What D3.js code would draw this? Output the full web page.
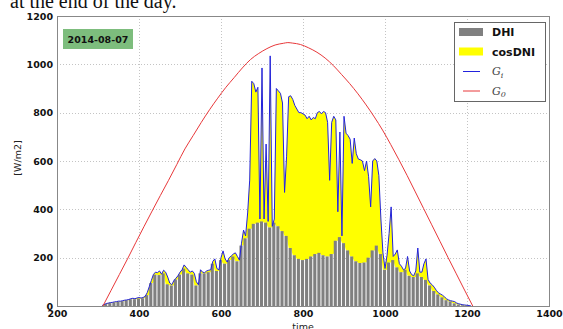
<!DOCTYPE html>
<html>
<head>
<meta charset="utf-8">
<script src="https://cdn.jsdelivr.net/npm/d3@7"></script>
<style>
  body { margin: 0; background: #fff; }
  svg { display: block; }
  .tick text { font-family: "DejaVu Sans", sans-serif; font-weight: bold; font-size: 9.5px; fill: #111; }
</style>
</head>
<body>
<svg id="chart" width="563" height="329"></svg>
<script>
// irradiance for one day, time in minutes
const xTicks = [200, 400, 600, 800, 1000, 1200, 1400];
const yTicks = [0, 200, 400, 600, 800, 1000, 1200];

// DHI, one bar every 10 min from 310 to 1210
const dhiTimes = d3.range(310, 1211, 10);
const dhi = [
    0, 8, 12, 15, 18, 20, 24, 28, 28, 30,
    32, 45, 95, 130, 128, 135, 90, 85, 110, 130,
    155, 135, 130, 85, 135, 135, 140, 175, 145, 190,
    175, 190, 205, 185, 250, 280, 320, 340, 345, 350,
    345, 325, 345, 330, 310, 290, 240, 210, 195, 190,
    195, 205, 215, 220, 210, 205, 215, 270, 285, 260,
    230, 205, 185, 178, 180, 200, 230, 250, 215, 150,
    180, 190, 160, 140, 150, 125, 120, 135, 120, 108,
    85, 62, 48, 36, 24, 19, 11, 6, 3, 1, 0
];

// G_i (= DHI + cosDNI), every 5 min from 310 to 1210
const giTimes = d3.range(310, 1211, 5);
const gi = [
    2, 6, 10, 12, 14, 15, 17, 18, 20, 20,
    22, 24, 25, 27, 30, 32, 30, 33, 35, 33,
    35, 40, 55, 80, 105, 130, 140, 138, 145, 132,
    148, 140, 120, 95, 88, 105, 115, 125, 140, 150,
    170, 160, 150, 140, 145, 135, 100, 88, 150, 140,
    138, 145, 148, 150, 185, 195, 155, 150, 200, 228,
    195, 182, 200, 207, 215, 220, 205, 190, 260, 314,
    290, 385, 521, 930, 920, 885, 905, 360, 985, 360,
    670, 350, 1035, 330, 360, 900, 890, 880, 840, 470,
    620, 866, 870, 855, 830, 815, 800, 800, 795, 790,
    775, 785, 770, 780, 775, 800, 805, 795, 805, 800,
    760, 520, 760, 785, 770, 390, 720, 290, 785, 715,
    705, 690, 590, 695, 630, 608, 605, 600, 560, 600,
    535, 410, 600, 610, 600, 540, 360, 220, 155, 210,
    300, 410, 205, 215, 232, 175, 165, 150, 155, 205,
    145, 130, 125, 145, 240, 140, 140, 175, 195, 110,
    95, 88, 78, 65, 55, 50, 45, 38, 30, 25,
    22, 20, 18, 12, 9, 7, 5, 4, 3, 2,
    0
];

// G_0, extraterrestrial irradiance
const g0Times = [312, 332, 352, 372, 392, 412, 432, 452, 472, 492, 512, 532, 552, 572, 592, 612, 632, 652, 672, 692, 712, 732, 752, 763,
    774, 794, 814, 834, 854, 874, 894, 914, 934, 954, 974, 994, 1014, 1034, 1054, 1074, 1094, 1114, 1134, 1154, 1174, 1194, 1214];
const g0 = [0, 65, 130, 195, 262, 328, 393, 457, 520, 585, 650, 705, 760, 812, 860, 905, 945, 985, 1020, 1045, 1065, 1080, 1087, 1090,
    1088, 1082, 1068, 1050, 1026, 995, 958, 920, 878, 832, 782, 728, 668, 605, 540, 472, 404, 336, 268, 200, 133, 66, 0];

const svg = d3.select('#chart');
const x = d3.scaleLinear().domain([200, 1400]).range([57, 549]);
const y = d3.scaleLinear().domain([0, 1200]).range([306, 16]);

// text above the figure (cut off in the page)
svg.append('text')
    .attr('x', 10).attr('y', 8)
    .attr('font-family', '"Liberation Serif", serif')
    .attr('font-size', 20)
    .attr('fill', '#111')
    .text('at the end of the day.');

// grid
const grid = svg.append('g');
grid.selectAll('.gx').data(xTicks.slice(1, -1)).enter().append('line')
    .attr('x1', d => Math.round(x(d)) + 0.5).attr('x2', d => Math.round(x(d)) + 0.5)
    .attr('y1', y(1200)).attr('y2', y(0))
    .attr('stroke', '#c4c4c4').attr('stroke-dasharray', '1,2');
grid.selectAll('.gy').data(yTicks.slice(1, -1)).enter().append('line')
    .attr('y1', d => Math.round(y(d)) + 0.5).attr('y2', d => Math.round(y(d)) + 0.5)
    .attr('x1', x(200)).attr('x2', x(1400))
    .attr('stroke', '#c4c4c4').attr('stroke-dasharray', '1,2');

// cosDNI: yellow between the DHI bar top and G_i
function dhiUnder(i) {
    if (i % 2 == 0) return dhi[i / 2];
    return Math.min(dhi[(i - 1) / 2], dhi[(i + 1) / 2]);
}
const yellowArea = d3.area()
    .x(d => x(d.t))
    .y0(d => y(d.lo))
    .y1(d => y(Math.max(d.lo, d.v)));
svg.append('path')
    .datum(giTimes.map((t, i) => ({t: t, v: gi[i], lo: dhiUnder(i)})))
    .attr('d', yellowArea)
    .attr('fill', '#ffff00');

// DHI bars
const step = x(10) - x(0);
svg.append('g').selectAll('rect')
    .data(dhiTimes.map((t, i) => ({t: t, v: dhi[i]})))
    .enter()
    .append('rect')
    .attr('x', d => x(d.t) - step / 2)
    .attr('width', step - 1)
    .attr('y', d => y(d.v))
    .attr('height', d => y(0) - y(d.v))
    .attr('fill', '#808080');

// G_i line
svg.append('path')
    .datum(giTimes.map((t, i) => [t, gi[i]]))
    .attr('d', d3.line().x(d => x(d[0])).y(d => y(d[1])))
    .attr('fill', 'none')
    .attr('stroke', '#2222dd')
    .attr('stroke-width', 1);

// G_0 line
svg.append('path')
    .datum(g0Times.map((t, i) => [t, g0[i]]))
    .attr('d', d3.line().curve(d3.curveMonotoneX).x(d => x(d[0])).y(d => y(d[1])))
    .attr('fill', 'none')
    .attr('stroke', '#e8383a')
    .attr('stroke-width', 1);

// frame
svg.append('rect')
    .attr('x', x(200) + 0.5).attr('y', y(1200) + 0.5)
    .attr('width', x(1400) - x(200)).attr('height', y(0) - y(1200))
    .attr('fill', 'none').attr('stroke', '#888');

// axes
svg.append('g')
    .attr('transform', `translate(0,${y(0)})`)
    .call(d3.axisBottom(x).tickValues(xTicks).tickSize(0).tickPadding(4).tickFormat(d3.format('d')))
    .call(g => g.select('.domain').remove());
svg.append('g')
    .attr('transform', `translate(${x(200)},0)`)
    .call(d3.axisLeft(y).tickValues(yTicks).tickSize(0).tickPadding(4).tickFormat(d3.format('d')))
    .call(g => g.select('.domain').remove());

svg.append('text')
    .attr('x', x(800)).attr('y', 330)
    .attr('text-anchor', 'middle')
    .attr('font-family', '"DejaVu Sans", sans-serif').attr('font-size', 9.5)
    .attr('fill', '#222')
    .text('time');
svg.append('text')
    .attr('transform', 'translate(21,158) rotate(-90)')
    .attr('text-anchor', 'middle')
    .attr('font-family', '"DejaVu Sans", sans-serif').attr('font-size', 9.5)
    .attr('fill', '#222')
    .text('[W/m2]');

// date label
svg.append('rect')
    .attr('x', 63).attr('y', 29).attr('width', 70).attr('height', 20)
    .attr('fill', '#7dbd7d');
svg.append('text')
    .attr('x', 98).attr('y', 42.5)
    .attr('text-anchor', 'middle')
    .attr('font-family', '"DejaVu Sans", sans-serif').attr('font-weight', 'bold').attr('font-size', 9.5)
    .attr('fill', '#111')
    .text('2014-08-07');

// legend
const legend = svg.append('g');
legend.append('rect')
    .attr('x', 454.5).attr('y', 22.5).attr('width', 91).attr('height', 79)
    .attr('fill', '#fff').attr('stroke', '#666');
const items = [
    {name: 'DHI', kind: 'patch', color: '#808080'},
    {name: 'cosDNI', kind: 'patch', color: '#ffff00'},
    {name: 'G', sub: 'i', kind: 'line', color: '#2222dd'},
    {name: 'G', sub: '0', kind: 'line', color: '#e8383a'}
];
items.forEach((d, i) => {
    const cy = 32 + i * 19.5;
    if (d.kind == 'patch') {
        legend.append('rect')
            .attr('x', 459).attr('y', cy - 4).attr('width', 24).attr('height', 8)
            .attr('fill', d.color);
        legend.append('text')
            .attr('x', 492).attr('y', cy + 4)
            .attr('font-family', '"DejaVu Sans", sans-serif').attr('font-weight', 'bold').attr('font-size', 11)
            .attr('fill', '#111')
            .text(d.name);
    } else {
        legend.append('line')
            .attr('x1', 463).attr('x2', 480).attr('y1', cy + 0.5).attr('y2', cy + 0.5)
            .attr('stroke', d.color);
        const t = legend.append('text')
            .attr('x', 492).attr('y', cy + 4)
            .attr('font-family', '"DejaVu Serif", serif').attr('font-style', 'italic').attr('font-size', 11)
            .attr('fill', '#444');
        t.append('tspan').text(d.name);
        t.append('tspan').attr('dy', 2.5).attr('font-size', 8).text(d.sub);
    }
});
</script>
</body>
</html>
